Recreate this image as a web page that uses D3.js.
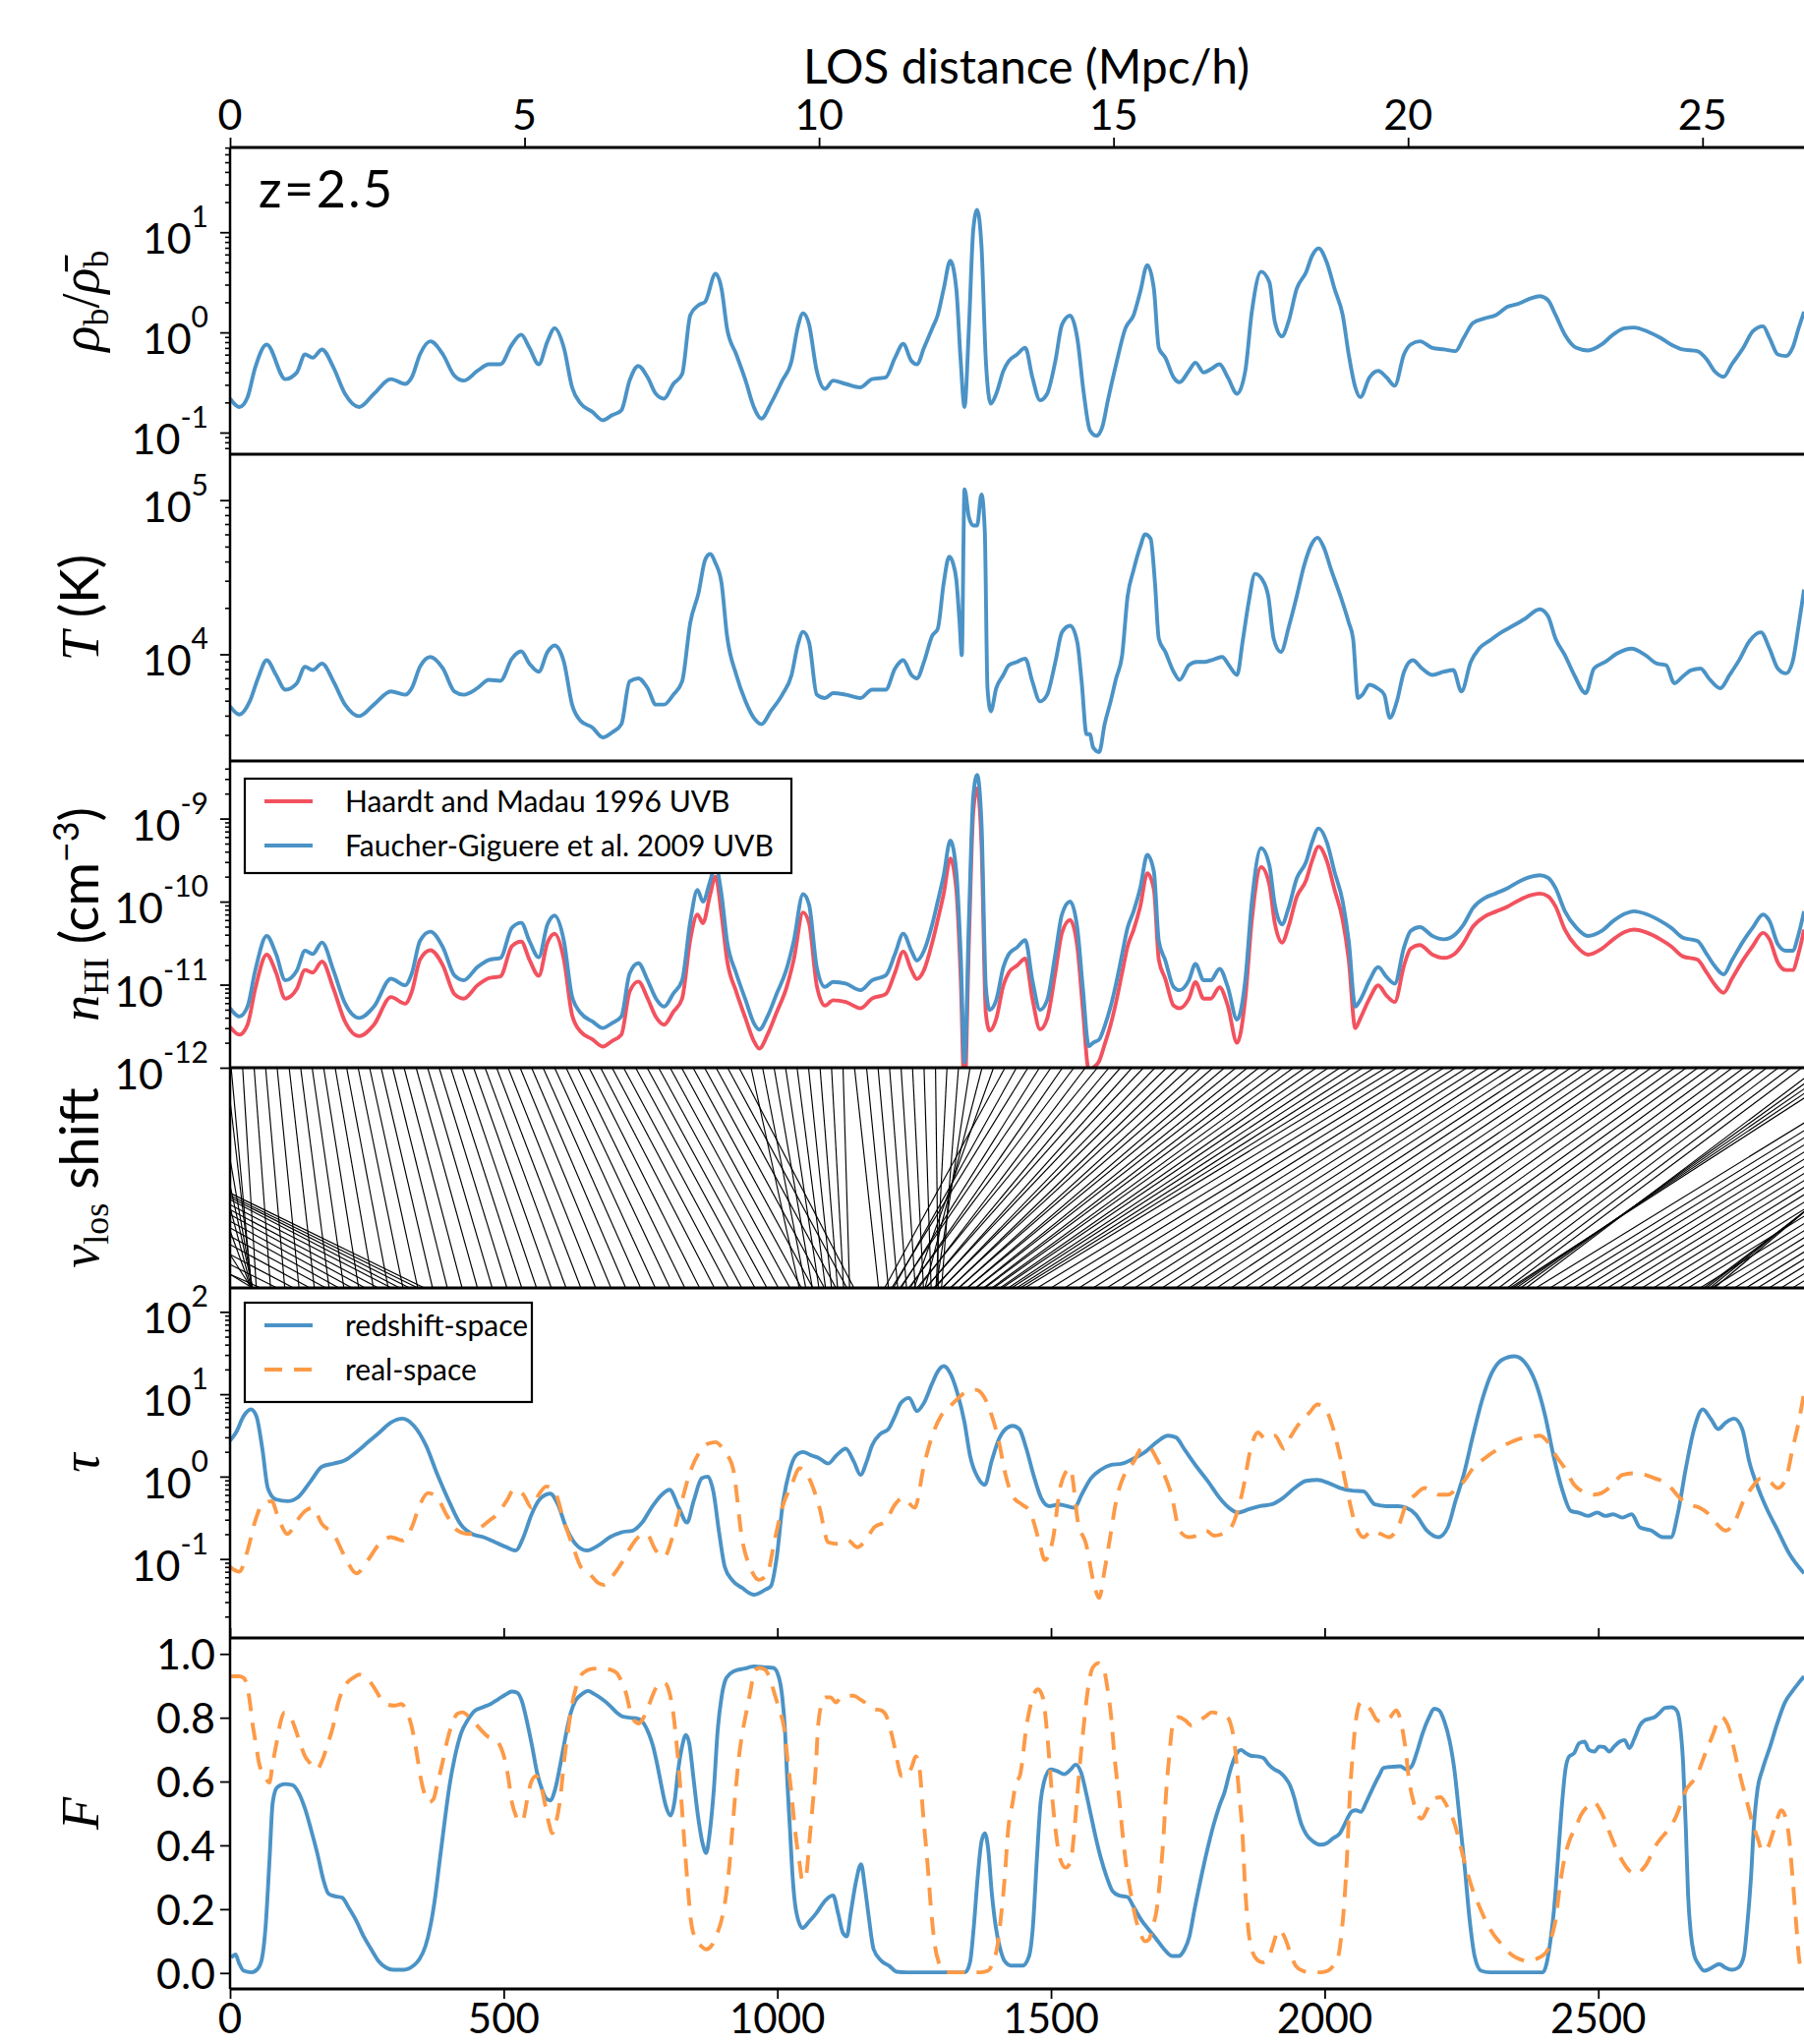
<!DOCTYPE html>
<html>
<head>
<meta charset="utf-8">
<script src="https://cdn.jsdelivr.net/npm/d3@7"></script>
<style>
  body { margin: 0; background: #fff; }
  svg { display: block; font-family: Lato, "Open Sans", sans-serif; }
</style>
</head>
<body>
<div id="chart"></div>
<script>
// ---- data (x in km/s) ----
const rhoData = [[0,0.218],[17,0.18],[32,0.226],[46,0.446],[67,0.756],[101,0.342],[122,0.398],[137,0.603],[151,0.559],[168,0.676],[189,0.446],[210,0.244],[236,0.18],[263,0.244],[294,0.342],[320,0.306],[332,0.356],[347,0.603],[366,0.815],[389,0.603],[410,0.369],[427,0.33],[452,0.413],[473,0.481],[494,0.481],[515,0.756],[532,0.949],[547,0.701],[564,0.481],[580,0.815],[593,1.1],[610,0.701],[625,0.283],[641,0.194],[662,0.161],[681,0.133],[698,0.149],[715,0.167],[730,0.33],[746,0.463],[763,0.356],[778,0.244],[793,0.218],[810,0.306],[826,0.383],[841,1.49],[856,1.87],[868,2.02],[887,3.84],[898,2.73],[908,1.1],[925,0.603],[942,0.33],[957,0.18],[971,0.138],[988,0.194],[1009,0.33],[1026,0.519],[1037,1.1],[1047,1.55],[1058,1.19],[1072,0.413],[1087,0.273],[1102,0.33],[1125,0.306],[1152,0.283],[1173,0.342],[1198,0.356],[1215,0.559],[1230,0.768],[1245,0.519],[1255,0.481],[1268,0.701],[1283,1.1],[1293,1.49],[1304,2.73],[1316,5.19],[1327,2.73],[1335,0.519],[1342,0.18],[1350,1.1],[1358,10.6],[1365,16.7],[1373,7.28],[1381,0.519],[1390,0.194],[1400,0.244],[1413,0.413],[1423,0.519],[1438,0.603],[1453,0.701],[1466,0.356],[1480,0.21],[1493,0.244],[1508,0.519],[1520,1.19],[1535,1.47],[1548,0.879],[1560,0.244],[1571,0.106],[1583,0.093],[1594,0.115],[1604,0.21],[1619,0.481],[1636,1.1],[1651,1.49],[1663,2.53],[1676,4.7],[1688,2.73],[1697,0.701],[1709,0.559],[1724,0.356],[1735,0.318],[1752,0.413],[1764,0.499],[1779,0.398],[1792,0.429],[1808,0.481],[1823,0.356],[1840,0.244],[1855,0.413],[1867,1.61],[1884,4.04],[1899,3.17],[1909,1.28],[1922,0.914],[1934,1.28],[1949,2.73],[1966,3.98],[1977,5.81],[1989,6.91],[2004,4.99],[2018,2.73],[2033,1.49],[2044,0.603],[2056,0.283],[2065,0.226],[2082,0.356],[2098,0.413],[2113,0.356],[2128,0.294],[2145,0.603],[2157,0.756],[2174,0.815],[2197,0.701],[2218,0.676],[2239,0.65],[2254,0.879],[2271,1.24],[2292,1.38],[2313,1.49],[2334,1.8],[2355,1.94],[2376,2.18],[2393,2.3],[2408,2.1],[2422,1.49],[2439,0.949],[2460,0.701],[2481,0.66],[2506,0.756],[2527,0.949],[2548,1.1],[2565,1.12],[2590,1.02],[2614,0.879],[2633,0.756],[2654,0.676],[2681,0.65],[2698,0.538],[2712,0.413],[2729,0.361],[2744,0.481],[2765,0.701],[2782,1.02],[2801,1.15],[2813,0.879],[2828,0.603],[2843,0.581],[2855,0.701],[2866,1.1],[2876,1.61]];

const tempData = [[0,4600],[17,4070],[36,4950],[51,6980],[67,9160],[84,7350],[101,5890],[122,6490],[137,8300],[151,7900],[168,8710],[189,6660],[210,4720],[236,3970],[263,4720],[294,5740],[320,5470],[332,6030],[347,8300],[366,9610],[389,8090],[410,5740],[427,5470],[452,6030],[473,6820],[494,6730],[515,9380],[532,10450],[547,8710],[564,7710],[580,10350],[593,11420],[610,8930],[625,4720],[641,3690],[662,3350],[681,2890],[698,3110],[715,3520],[730,6660],[746,6980],[763,6030],[778,4720],[793,4720],[810,5470],[826,6660],[841,16100],[856,25000],[868,40900],[877,44700],[887,39000],[898,29000],[908,13200],[925,7350],[942,4950],[957,3870],[971,3520],[988,4270],[1009,5470],[1026,7350],[1037,11420],[1047,14000],[1058,12000],[1072,5470],[1087,5200],[1102,5600],[1125,5470],[1152,5200],[1173,5890],[1198,5890],[1215,8090],[1230,9160],[1245,7350],[1255,6980],[1268,8930],[1283,13200],[1293,14600],[1304,29000],[1314,43000],[1321,39000],[1327,30500],[1333,16100],[1337,9870],[1342,117500],[1350,77500],[1358,68500],[1365,68500],[1373,109000],[1379,63700],[1384,6030],[1390,4270],[1400,6030],[1413,7350],[1423,8500],[1438,8930],[1453,9380],[1466,6660],[1480,4950],[1493,5470],[1508,8930],[1520,13900],[1535,15300],[1548,12000],[1556,6660],[1565,3030],[1571,3030],[1577,2490],[1588,2320],[1598,3520],[1609,4950],[1619,6980],[1630,9870],[1640,23800],[1651,35300],[1663,49800],[1672,60000],[1682,56300],[1690,29000],[1697,12600],[1709,10350],[1724,7710],[1735,6820],[1752,8500],[1766,8930],[1781,8930],[1798,9290],[1813,9610],[1825,8500],[1840,7350],[1850,12000],[1861,21600],[1873,33300],[1886,30500],[1897,23800],[1907,12600],[1920,10350],[1935,15300],[1949,23800],[1962,37100],[1977,52400],[1987,57100],[1998,49800],[2012,35300],[2029,23800],[2044,16100],[2052,12600],[2061,5200],[2069,5470],[2082,6340],[2096,6030],[2109,5470],[2119,3870],[2132,4950],[2145,7710],[2161,9160],[2178,8090],[2197,7350],[2218,7710],[2235,7900],[2250,5740],[2267,8930],[2282,10870],[2302,12300],[2323,13900],[2344,15300],[2365,16900],[2393,19600],[2408,17700],[2422,12600],[2439,9870],[2456,7350],[2477,5600],[2492,8090],[2513,8930],[2534,10100],[2561,10870],[2586,9870],[2607,8710],[2624,8500],[2639,6490],[2654,7160],[2670,7900],[2687,8090],[2702,6980],[2723,6030],[2740,7350],[2759,9380],[2775,12000],[2797,13900],[2813,10870],[2828,8090],[2843,7520],[2855,8930],[2866,15300],[2876,26300]];

const nhiFG = [[0,5.2e-12],[17,4.14e-12],[32,5.45e-12],[46,1.48e-11],[67,3.86e-11],[84,2.34e-11],[101,1.13e-11],[122,1.48e-11],[137,2.56e-11],[151,2.34e-11],[168,3.22e-11],[189,1.48e-11],[210,5.97e-12],[236,3.97e-12],[263,5.45e-12],[294,1.18e-11],[320,9.84e-12],[332,1.36e-11],[347,3.36e-11],[366,4.35e-11],[389,2.81e-11],[410,1.29e-11],[427,1.13e-11],[452,1.63e-11],[473,1.99e-11],[494,2.1e-11],[515,4.85e-11],[532,5.56e-11],[547,3.36e-11],[564,2.14e-11],[580,5.31e-11],[593,6.79e-11],[610,3.36e-11],[625,7.16e-12],[641,4.54e-12],[662,3.61e-12],[681,3.01e-12],[698,3.45e-12],[715,4.14e-12],[730,1.36e-11],[746,1.81e-11],[763,1.13e-11],[778,6.84e-12],[793,5.45e-12],[810,7.83e-12],[826,1.13e-11],[841,5.82e-11],[854,1.38e-10],[864,1.0e-10],[877,1.74e-10],[887,2.74e-10],[898,1.21e-10],[908,3.36e-11],[925,1.36e-11],[942,6.53e-12],[957,3.45e-12],[967,2.88e-12],[982,4.14e-12],[999,7.83e-12],[1016,1.48e-11],[1030,3.36e-11],[1047,1.23e-10],[1058,9.18e-11],[1072,1.63e-11],[1087,9.4e-12],[1102,1.08e-11],[1125,1.03e-11],[1152,8.59e-12],[1173,1.13e-11],[1198,1.29e-11],[1215,2.34e-11],[1230,4.12e-11],[1245,2.56e-11],[1255,1.95e-11],[1268,2.56e-11],[1283,5.31e-11],[1293,1.0e-10],[1304,2.08e-10],[1316,5.42e-10],[1327,2.29e-10],[1335,2.34e-11],[1342,1.16e-12],[1350,5.82e-11],[1358,1.86e-9],[1365,3.36e-9],[1373,8.96e-10],[1381,9.4e-12],[1388,4.97e-12],[1400,6.53e-12],[1413,1.63e-11],[1423,2.34e-11],[1438,2.81e-11],[1453,3.43e-11],[1466,1.13e-11],[1480,4.97e-12],[1493,6.53e-12],[1508,2.34e-11],[1520,6.98e-11],[1535,1.0e-10],[1548,4.85e-11],[1558,9.4e-12],[1569,1.82e-12],[1577,2.0e-12],[1588,2.19e-12],[1598,3.16e-12],[1609,5.45e-12],[1619,1.03e-11],[1630,2.34e-11],[1640,4.85e-11],[1651,7.66e-11],[1663,1.45e-10],[1676,3.66e-10],[1688,2.29e-10],[1697,3.36e-11],[1709,1.95e-11],[1724,9.4e-12],[1735,8.59e-12],[1752,1.13e-11],[1764,1.78e-11],[1779,1.13e-11],[1792,1.13e-11],[1808,1.55e-11],[1823,9.4e-12],[1840,3.79e-12],[1855,1.13e-11],[1867,1.0e-10],[1884,4.4e-10],[1899,2.74e-10],[1909,9.18e-11],[1922,5.31e-11],[1934,8.37e-11],[1949,1.9e-10],[1966,3.0e-10],[1977,5.19e-10],[1989,7.6e-10],[2004,5.19e-10],[2018,2.29e-10],[2033,1.0e-10],[2044,3.36e-11],[2056,5.45e-12],[2065,6.53e-12],[2082,1.13e-11],[2098,1.63e-11],[2113,1.24e-11],[2128,1.03e-11],[2145,2.81e-11],[2157,4.43e-11],[2174,4.94e-11],[2197,3.86e-11],[2218,3.52e-11],[2239,4.05e-11],[2254,5.31e-11],[2271,8.37e-11],[2292,1.1e-10],[2313,1.26e-10],[2334,1.45e-10],[2355,1.74e-10],[2376,1.99e-10],[2393,2.08e-10],[2408,1.94e-10],[2422,1.45e-10],[2439,7.66e-11],[2460,4.85e-11],[2481,3.86e-11],[2506,4.43e-11],[2527,5.82e-11],[2548,7.11e-11],[2565,7.66e-11],[2590,6.98e-11],[2614,5.82e-11],[2633,4.85e-11],[2654,3.69e-11],[2681,3.36e-11],[2698,2.34e-11],[2712,1.7e-11],[2729,1.33e-11],[2744,1.95e-11],[2765,3.36e-11],[2782,4.85e-11],[2801,6.98e-11],[2813,5.82e-11],[2828,3.08e-11],[2843,2.56e-11],[2855,2.56e-11],[2866,4.05e-11],[2876,7.66e-11]];

const nhiHM = [[0,3.1e-12],[17,2.5e-12],[32,3.3e-12],[46,8.9e-12],[67,2.3e-11],[84,1.4e-11],[101,6.8e-12],[122,8.9e-12],[137,1.5e-11],[151,1.4e-11],[168,1.9e-11],[189,8.9e-12],[210,3.6e-12],[236,2.4e-12],[263,3.3e-12],[294,7.1e-12],[320,5.9e-12],[332,8.2e-12],[347,2.0e-11],[366,2.6e-11],[389,1.7e-11],[410,7.7e-12],[427,6.8e-12],[452,9.8e-12],[473,1.2e-11],[494,1.26e-11],[515,2.9e-11],[532,3.3e-11],[547,2.0e-11],[564,1.28e-11],[580,3.2e-11],[593,4.1e-11],[610,2.0e-11],[625,4.3e-12],[641,2.7e-12],[662,2.2e-12],[681,1.8e-12],[698,2.1e-12],[715,2.5e-12],[730,8.2e-12],[746,1.09e-11],[763,6.8e-12],[778,4.1e-12],[793,3.3e-12],[810,4.7e-12],[826,6.8e-12],[841,3.5e-11],[854,7.0e-11],[864,5.5e-11],[877,1.2e-10],[887,2.0e-10],[898,7.0e-11],[908,2.0e-11],[925,8.2e-12],[942,3.9e-12],[957,2.1e-12],[967,1.7e-12],[982,2.5e-12],[999,4.7e-12],[1016,8.9e-12],[1030,2.0e-11],[1047,7.4e-11],[1058,5.5e-11],[1072,9.8e-12],[1087,5.6e-12],[1102,6.5e-12],[1125,6.2e-12],[1152,5.2e-12],[1173,6.8e-12],[1198,7.7e-12],[1215,1.4e-11],[1230,2.5e-11],[1245,1.5e-11],[1255,1.17e-11],[1268,1.5e-11],[1283,3.2e-11],[1293,6.0e-11],[1304,1.25e-10],[1316,3.3e-10],[1327,1.4e-10],[1335,1.2e-11],[1342,5e-13],[1350,3.2e-11],[1358,1.2e-9],[1365,2.3e-9],[1373,5.0e-10],[1381,4.5e-12],[1388,2.8e-12],[1400,3.9e-12],[1413,9.8e-12],[1423,1.4e-11],[1438,1.7e-11],[1453,2.06e-11],[1466,6.8e-12],[1480,2.9e-12],[1493,3.9e-12],[1508,1.4e-11],[1520,4.2e-11],[1535,6.0e-11],[1548,2.9e-11],[1558,5.3e-12],[1569,9.5e-13],[1577,1.0e-12],[1588,1.2e-12],[1598,1.9e-12],[1609,3.3e-12],[1619,6.2e-12],[1630,1.4e-11],[1640,2.9e-11],[1651,4.6e-11],[1663,8.7e-11],[1676,2.2e-10],[1688,1.4e-10],[1697,2.0e-11],[1709,1.17e-11],[1724,5.6e-12],[1735,5.2e-12],[1752,6.8e-12],[1764,1.07e-11],[1779,6.8e-12],[1792,6.8e-12],[1808,9.3e-12],[1823,5.6e-12],[1840,2.0e-12],[1855,6.8e-12],[1867,6.0e-11],[1884,2.6e-10],[1899,1.6e-10],[1909,5.5e-11],[1922,3.2e-11],[1934,5.0e-11],[1949,1.14e-10],[1966,1.8e-10],[1977,3.1e-10],[1989,4.6e-10],[2004,3.1e-10],[2018,1.4e-10],[2033,6.0e-11],[2044,2.0e-11],[2056,3.0e-12],[2065,3.9e-12],[2082,6.8e-12],[2098,9.8e-12],[2113,7.4e-12],[2128,6.2e-12],[2145,1.7e-11],[2157,2.7e-11],[2174,3.0e-11],[2197,2.3e-11],[2218,2.1e-11],[2239,2.4e-11],[2254,3.2e-11],[2271,5.0e-11],[2292,6.6e-11],[2313,7.6e-11],[2334,8.7e-11],[2355,1.04e-10],[2376,1.19e-10],[2393,1.25e-10],[2408,1.16e-10],[2422,8.7e-11],[2439,4.6e-11],[2460,2.9e-11],[2481,2.3e-11],[2506,2.7e-11],[2527,3.5e-11],[2548,4.3e-11],[2565,4.6e-11],[2590,4.2e-11],[2614,3.5e-11],[2633,2.9e-11],[2654,2.2e-11],[2681,2.0e-11],[2698,1.4e-11],[2712,1.02e-11],[2729,8.0e-12],[2744,1.17e-11],[2765,2.0e-11],[2782,2.9e-11],[2801,4.2e-11],[2813,3.5e-11],[2828,1.85e-11],[2843,1.5e-11],[2855,1.5e-11],[2866,2.4e-11],[2876,4.6e-11]];

// v_los shift: [real-space position (top), redshift-space position (bottom)] in km/s
const losPairs = [[-847,56],[-718,86],[-647,116],[-595,146],[-570,175],[-530,199],[-513,223],[-495,247],[-492,271],[-485,295],[-463,310],[-470,328],[-474,343],[-469,355],
[-620,41],[-218,39],[-108,38],[-68,39],[-47,41],[-29,41],[-7,40],[2,39],
[23,48],[44,74],[65,100],[86,126],[108,154],[129,181],[150,208],[171,235],[192,262],[213,289],[234,316],[255,343],[276,370],[297,397],[318,424],[340,452],[361,479],[382,506],[403,533],[424,560],[445,587],[466,614],[487,641],[508,668],[530,696],[551,723],[572,750],[593,777],[614,804],[635,831],[656,858],[677,885],[698,911],[719,935],[741,959],[762,981],[783,1002],[804,1023],[825,1044],[846,1065],[867,1086],[888,1107],[909,1127],[930,1140],
[952,1040],[973,1052],[994,1064],[1015,1076],[1036,1088],[1057,1099],[1078,1110],[1099,1121],[1120,1132],
[1141,1185],[1163,1203],[1184,1220],[1205,1236],[1226,1252],[1247,1267],[1268,1281],[1289,1294],
[1310,1290],[1331,1300],[1352,1290],[1374,1270],[1395,1250],
[1416,1196],[1437,1212],[1458,1209],[1479,1226],[1500,1224],[1521,1242],[1542,1240],[1563,1258],[1585,1255],[1606,1272],[1627,1271],[1648,1288],[1669,1286],[1690,1302],[1711,1301],[1732,1317],[1753,1316],[1774,1332],[1796,1331],[1817,1347],[1838,1347],[1859,1362],[1880,1363],[1901,1377],[1922,1379],[1943,1392],[1964,1395],[1985,1407],[2007,1411],[2028,1422],[2049,1428],[2070,1437],[2091,1444],[2112,1452],
[2133,1475],[2154,1500],[2175,1525],[2196,1551],[2218,1577],[2239,1602],[2260,1628],[2281,1653],[2302,1678],[2323,1703],[2344,1728],[2365,1753],[2386,1778],[2407,1803],[2429,1829],[2450,1854],[2471,1879],[2492,1904],[2513,1929],[2534,1954],[2555,1979],[2576,2004],[2597,2029],[2618,2054],[2640,2080],[2661,2105],[2682,2130],[2703,2155],[2724,2180],[2745,2204],[2766,2228],[2787,2252],[2808,2275],[2829,2297],[2851,2318],[2872,2334],
[2902,2368],[2917,2358],[2932,2350],[2947,2344],[2962,2339],
[3040,2386],[3062,2412],[3083,2433],[3104,2454],[3125,2475],[3146,2496],[3167,2517],[3188,2538],[3209,2559],[3230,2580],[3251,2601],[3273,2623],[3294,2644],[3315,2664],
[3188,2712],[3200,2704],[3212,2698],[3224,2693],
[3336,2686],[3357,2707],[3378,2728],[3399,2749],[3420,2770],[3441,2791],[3462,2812],[3484,2834],[3505,2855],[3526,2876],[3547,2897]];

const tauZ = [[0,2.74],[11,3.44],[25,5.45],[38,6.54],[48,5.45],[59,2.18],[69,0.726],[84,0.527],[105,0.503],[126,0.577],[147,0.871],[168,1.32],[189,1.44],[210,1.58],[231,1.99],[252,2.62],[273,3.44],[294,4.54],[315,5.06],[336,4.14],[358,2.39],[379,1.05],[400,0.503],[421,0.265],[442,0.201],[463,0.184],[484,0.16],[505,0.139],[522,0.127],[536,0.184],[551,0.349],[568,0.551],[585,0.621],[599,0.459],[614,0.242],[631,0.153],[652,0.127],[673,0.146],[694,0.184],[715,0.211],[736,0.221],[753,0.277],[770,0.419],[789,0.604],[803,0.693],[820,0.419],[835,0.277],[847,0.503],[862,0.955],[873,1.0],[883,0.662],[894,0.201],[904,0.08],[917,0.0558],[936,0.0444],[957,0.0369],[978,0.0424],[988,0.0465],[999,0.106],[1009,0.419],[1022,1.15],[1034,1.81],[1047,1.99],[1062,1.81],[1077,1.66],[1093,1.44],[1108,1.81],[1125,2.18],[1140,1.51],[1152,1.05],[1163,1.51],[1173,2.39],[1188,3.29],[1203,3.78],[1215,5.45],[1226,7.86],[1241,9.02],[1255,6.25],[1268,7.86],[1283,13.6],[1293,18.8],[1304,21.9],[1316,17.9],[1329,10.3],[1342,4.54],[1352,1.81],[1367,0.955],[1379,0.795],[1392,1.58],[1405,2.87],[1417,3.78],[1430,4.14],[1442,3.78],[1455,2.18],[1468,1.05],[1482,0.551],[1497,0.438],[1514,0.459],[1529,0.438],[1543,0.419],[1556,0.604],[1573,0.955],[1590,1.2],[1609,1.38],[1630,1.44],[1651,1.66],[1672,1.99],[1693,2.62],[1714,3.14],[1728,3.0],[1745,2.08],[1766,1.32],[1787,0.871],[1808,0.551],[1825,0.419],[1842,0.365],[1861,0.4],[1882,0.438],[1903,0.459],[1924,0.551],[1945,0.726],[1966,0.888],[1987,0.912],[2008,0.832],[2029,0.726],[2050,0.675],[2071,0.662],[2092,0.459],[2113,0.438],[2134,0.438],[2149,0.419],[2166,0.349],[2187,0.221],[2208,0.184],[2225,0.242],[2239,0.503],[2254,1.05],[2271,3.14],[2288,8.61],[2305,17.9],[2323,25.9],[2347,28.9],[2365,24.7],[2386,13.6],[2403,5.45],[2418,1.81],[2435,0.662],[2450,0.382],[2464,0.365],[2481,0.333],[2498,0.365],[2513,0.333],[2527,0.349],[2544,0.318],[2561,0.349],[2576,0.242],[2597,0.221],[2618,0.184],[2633,0.184],[2645,0.349],[2660,1.26],[2675,3.78],[2691,6.54],[2706,4.97],[2719,3.78],[2733,4.54],[2748,5.06],[2763,3.78],[2776,1.51],[2792,0.726],[2807,0.419],[2828,0.221],[2849,0.116],[2876,0.067]];

const tauR = [[0,0.08],[17,0.07],[32,0.127],[46,0.29],[59,0.459],[76,0.503],[88,0.318],[105,0.201],[122,0.29],[137,0.382],[151,0.419],[168,0.265],[189,0.201],[210,0.106],[231,0.067],[252,0.097],[273,0.153],[294,0.184],[315,0.168],[332,0.242],[347,0.459],[362,0.632],[379,0.551],[395,0.349],[416,0.221],[437,0.201],[458,0.242],[473,0.29],[488,0.349],[505,0.503],[519,0.693],[536,0.604],[551,0.419],[564,0.604],[578,0.76],[593,0.662],[610,0.29],[627,0.139],[641,0.08],[656,0.067],[673,0.051],[683,0.0486],[698,0.061],[715,0.088],[732,0.139],[746,0.184],[761,0.201],[778,0.127],[793,0.106],[810,0.201],[824,0.459],[841,1.15],[858,1.99],[873,2.5],[887,2.62],[904,1.99],[919,1.26],[936,0.168],[950,0.08],[967,0.0558],[982,0.067],[995,0.168],[1009,0.419],[1026,0.795],[1041,1.26],[1058,0.955],[1077,0.419],[1093,0.16],[1110,0.153],[1129,0.168],[1146,0.139],[1161,0.168],[1177,0.242],[1198,0.29],[1215,0.459],[1230,0.551],[1251,0.419],[1268,1.38],[1283,3.14],[1299,5.45],[1316,7.17],[1331,9.02],[1346,10.8],[1363,11.3],[1377,9.44],[1392,5.45],[1405,2.62],[1417,1.05],[1430,0.577],[1447,0.459],[1461,0.382],[1478,0.168],[1489,0.0968],[1503,0.168],[1518,0.795],[1535,1.26],[1550,0.265],[1564,0.153],[1577,0.0558],[1588,0.0337],[1598,0.0734],[1609,0.201],[1619,0.503],[1634,1.05],[1651,1.51],[1665,2.18],[1678,2.28],[1693,1.66],[1707,1.05],[1720,0.604],[1735,0.221],[1752,0.184],[1766,0.192],[1783,0.221],[1798,0.192],[1813,0.201],[1829,0.242],[1850,0.662],[1865,2.18],[1878,3.44],[1892,2.87],[1909,3.14],[1926,2.18],[1939,3.14],[1955,4.54],[1972,5.97],[1987,7.5],[2002,6.54],[2014,4.14],[2029,1.66],[2044,0.551],[2056,0.265],[2071,0.184],[2086,0.221],[2103,0.201],[2117,0.184],[2134,0.242],[2149,0.459],[2166,0.604],[2183,0.726],[2197,0.662],[2208,0.604],[2225,0.604],[2242,0.726],[2254,0.871],[2271,1.26],[2292,1.66],[2313,2.08],[2334,2.5],[2355,2.87],[2376,3.0],[2393,3.14],[2408,2.62],[2422,1.81],[2439,1.26],[2456,0.795],[2471,0.662],[2492,0.604],[2506,0.632],[2523,0.76],[2544,1.05],[2565,1.1],[2586,1.05],[2603,0.955],[2618,0.871],[2633,0.726],[2649,0.551],[2666,0.459],[2685,0.419],[2702,0.349],[2717,0.265],[2733,0.221],[2750,0.29],[2765,0.503],[2780,0.726],[2797,0.955],[2813,0.871],[2828,0.726],[2843,0.955],[2855,2.18],[2866,4.54],[2876,10.3]];

const fluxZ = [[2,0.048],[10,0.058],[16,0.033],[25,0.007],[39,0.002],[50,0.012],[58,0.043],[65,0.146],[72,0.351],[78,0.535],[86,0.582],[100,0.592],[114,0.589],[125,0.566],[137,0.515],[149,0.443],[160,0.371],[171,0.289],[180,0.248],[193,0.24],[205,0.236],[216,0.207],[230,0.166],[244,0.115],[258,0.074],[271,0.038],[285,0.017],[299,0.01],[318,0.01],[335,0.023],[346,0.043],[357,0.084],[366,0.146],[374,0.228],[383,0.351],[392,0.474],[401,0.587],[411,0.679],[422,0.751],[434,0.792],[448,0.823],[462,0.833],[476,0.843],[490,0.858],[503,0.872],[515,0.882],[524,0.879],[533,0.853],[542,0.792],[552,0.71],[561,0.628],[570,0.576],[578,0.546],[585,0.541],[594,0.576],[604,0.658],[613,0.741],[622,0.812],[631,0.853],[643,0.874],[654,0.884],[666,0.874],[680,0.858],[694,0.838],[706,0.817],[717,0.804],[731,0.8],[745,0.797],[756,0.782],[765,0.751],[773,0.71],[780,0.658],[787,0.597],[796,0.525],[805,0.494],[812,0.535],[819,0.638],[826,0.71],[833,0.746],[839,0.72],[847,0.607],[854,0.505],[864,0.402],[870,0.376],[876,0.433],[884,0.576],[891,0.761],[898,0.864],[907,0.925],[921,0.946],[940,0.954],[958,0.961],[977,0.958],[993,0.956],[1003,0.925],[1009,0.864],[1014,0.761],[1018,0.607],[1023,0.453],[1028,0.299],[1034,0.197],[1046,0.141],[1058,0.161],[1071,0.187],[1088,0.228],[1102,0.243],[1111,0.187],[1120,0.125],[1127,0.115],[1134,0.187],[1144,0.289],[1153,0.341],[1160,0.269],[1167,0.176],[1176,0.074],[1190,0.038],[1204,0.023],[1218,0.004],[1237,0.002],[1292,0.002],[1343,0.002],[1352,0.033],[1359,0.146],[1366,0.299],[1373,0.412],[1379,0.438],[1385,0.392],[1392,0.248],[1399,0.146],[1406,0.084],[1415,0.038],[1427,0.023],[1441,0.023],[1448,0.023],[1460,0.053],[1467,0.146],[1474,0.351],[1481,0.535],[1487,0.597],[1499,0.638],[1511,0.633],[1524,0.623],[1536,0.638],[1545,0.653],[1555,0.628],[1564,0.566],[1573,0.494],[1582,0.423],[1591,0.361],[1601,0.305],[1612,0.258],[1624,0.243],[1640,0.238],[1651,0.207],[1665,0.166],[1679,0.135],[1693,0.105],[1707,0.074],[1721,0.053],[1733,0.053],[1744,0.074],[1753,0.115],[1762,0.197],[1773,0.289],[1785,0.382],[1797,0.464],[1808,0.525],[1817,0.566],[1828,0.638],[1838,0.684],[1847,0.699],[1856,0.689],[1865,0.681],[1877,0.679],[1888,0.674],[1898,0.653],[1908,0.638],[1919,0.628],[1928,0.612],[1937,0.587],[1945,0.546],[1951,0.505],[1958,0.464],[1967,0.433],[1979,0.412],[1993,0.402],[2004,0.407],[2016,0.423],[2028,0.438],[2036,0.464],[2043,0.489],[2050,0.507],[2057,0.51],[2066,0.505],[2076,0.535],[2087,0.576],[2099,0.617],[2108,0.643],[2122,0.646],[2138,0.648],[2149,0.638],[2159,0.648],[2168,0.689],[2179,0.751],[2191,0.802],[2200,0.828],[2209,0.823],[2219,0.787],[2228,0.73],[2237,0.638],[2246,0.494],[2256,0.33],[2265,0.166],[2274,0.053],[2286,0.007],[2302,0.002],[2352,0.002],[2399,0.002],[2406,0.033],[2412,0.094],[2419,0.197],[2426,0.351],[2433,0.515],[2440,0.638],[2447,0.679],[2456,0.689],[2465,0.72],[2475,0.725],[2483,0.699],[2493,0.694],[2502,0.71],[2511,0.708],[2520,0.694],[2529,0.71],[2539,0.725],[2548,0.73],[2557,0.705],[2566,0.735],[2576,0.776],[2585,0.792],[2594,0.797],[2603,0.802],[2613,0.817],[2622,0.831],[2634,0.833],[2643,0.823],[2649,0.782],[2655,0.658],[2660,0.453],[2664,0.248],[2669,0.125],[2675,0.058],[2683,0.028],[2694,0.007],[2708,0.017],[2721,0.028],[2732,0.017],[2744,0.01],[2756,0.017],[2766,0.053],[2772,0.146],[2779,0.299],[2784,0.453],[2791,0.576],[2800,0.638],[2814,0.71],[2827,0.782],[2841,0.848],[2855,0.884],[2869,0.915],[2876,0.93]];

const fluxR = [[2,0.93],[16,0.93],[25,0.925],[35,0.864],[41,0.782],[47,0.72],[53,0.658],[63,0.617],[72,0.597],[78,0.658],[86,0.73],[93,0.792],[100,0.817],[109,0.807],[118,0.771],[128,0.72],[137,0.679],[146,0.658],[158,0.638],[169,0.669],[179,0.72],[188,0.771],[197,0.843],[205,0.884],[214,0.91],[225,0.925],[236,0.935],[248,0.925],[257,0.91],[267,0.884],[276,0.858],[288,0.841],[301,0.838],[313,0.843],[322,0.823],[332,0.771],[338,0.72],[344,0.658],[350,0.597],[358,0.551],[364,0.535],[372,0.546],[378,0.587],[388,0.658],[397,0.73],[406,0.782],[415,0.812],[425,0.817],[437,0.802],[448,0.782],[459,0.761],[471,0.741],[483,0.735],[494,0.71],[502,0.669],[508,0.617],[515,0.535],[522,0.494],[529,0.474],[536,0.484],[542,0.535],[550,0.597],[559,0.617],[568,0.587],[576,0.525],[582,0.474],[589,0.438],[596,0.474],[604,0.556],[610,0.658],[617,0.751],[624,0.833],[632,0.894],[640,0.93],[652,0.948],[666,0.954],[680,0.954],[694,0.951],[706,0.941],[715,0.915],[724,0.874],[731,0.823],[738,0.792],[747,0.782],[756,0.802],[765,0.838],[773,0.874],[780,0.899],[789,0.91],[797,0.905],[802,0.884],[810,0.812],[817,0.699],[824,0.556],[830,0.412],[836,0.279],[842,0.166],[851,0.105],[861,0.084],[870,0.074],[879,0.084],[888,0.115],[898,0.166],[905,0.228],[912,0.33],[918,0.453],[924,0.576],[930,0.679],[937,0.761],[944,0.823],[951,0.884],[958,0.946],[967,0.956],[977,0.951],[986,0.925],[995,0.874],[1004,0.823],[1012,0.771],[1018,0.679],[1025,0.576],[1032,0.453],[1040,0.351],[1046,0.289],[1053,0.31],[1058,0.402],[1065,0.535],[1070,0.638],[1074,0.761],[1081,0.843],[1088,0.864],[1097,0.864],[1107,0.848],[1116,0.864],[1127,0.869],[1139,0.869],[1151,0.858],[1164,0.843],[1176,0.828],[1190,0.823],[1200,0.802],[1207,0.761],[1214,0.71],[1220,0.658],[1227,0.617],[1237,0.617],[1246,0.648],[1253,0.679],[1260,0.638],[1266,0.505],[1274,0.351],[1281,0.197],[1288,0.084],[1295,0.033],[1303,0.012],[1315,0.002],[1334,0.002],[1352,0.002],[1371,0.002],[1385,0.007],[1394,0.033],[1402,0.084],[1408,0.166],[1415,0.289],[1422,0.453],[1430,0.535],[1436,0.597],[1443,0.617],[1456,0.782],[1476,0.889],[1485,0.864],[1495,0.71],[1502,0.556],[1508,0.453],[1518,0.351],[1527,0.33],[1536,0.351],[1543,0.453],[1548,0.556],[1553,0.658],[1559,0.761],[1567,0.884],[1576,0.956],[1587,0.971],[1596,0.956],[1603,0.894],[1610,0.802],[1616,0.679],[1624,0.556],[1631,0.433],[1638,0.33],[1646,0.248],[1654,0.176],[1663,0.125],[1672,0.099],[1679,0.105],[1686,0.146],[1693,0.197],[1699,0.289],[1705,0.412],[1710,0.556],[1716,0.679],[1723,0.782],[1734,0.802],[1745,0.792],[1757,0.776],[1767,0.787],[1781,0.802],[1794,0.817],[1808,0.812],[1819,0.807],[1828,0.782],[1836,0.71],[1843,0.576],[1850,0.433],[1854,0.289],[1859,0.166],[1865,0.084],[1877,0.041],[1887,0.033],[1896,0.041],[1905,0.084],[1916,0.135],[1923,0.125],[1930,0.099],[1937,0.064],[1947,0.023],[1960,0.007],[1974,0.002],[1993,0.002],[2006,0.007],[2016,0.023],[2025,0.053],[2031,0.125],[2037,0.248],[2042,0.402],[2046,0.556],[2051,0.679],[2057,0.79],[2066,0.848],[2076,0.843],[2085,0.823],[2096,0.792],[2108,0.787],[2120,0.802],[2131,0.823],[2140,0.782],[2148,0.699],[2154,0.607],[2161,0.546],[2168,0.505],[2177,0.484],[2188,0.515],[2200,0.546],[2212,0.551],[2223,0.525],[2232,0.494],[2240,0.453],[2249,0.392],[2260,0.32],[2271,0.258],[2283,0.207],[2297,0.154],[2311,0.115],[2327,0.084],[2341,0.058],[2357,0.043],[2371,0.038],[2385,0.043],[2397,0.053],[2408,0.074],[2415,0.115],[2422,0.166],[2428,0.248],[2435,0.33],[2443,0.392],[2449,0.423],[2458,0.453],[2468,0.494],[2482,0.525],[2493,0.535],[2502,0.515],[2511,0.484],[2520,0.443],[2532,0.392],[2544,0.351],[2557,0.32],[2569,0.31],[2578,0.32],[2588,0.341],[2597,0.371],[2606,0.402],[2615,0.423],[2625,0.443],[2634,0.464],[2643,0.494],[2652,0.535],[2661,0.576],[2671,0.597],[2680,0.617],[2689,0.658],[2698,0.699],[2708,0.741],[2717,0.782],[2726,0.802],[2732,0.792],[2740,0.761],[2747,0.71],[2755,0.648],[2763,0.592],[2772,0.535],[2781,0.474],[2791,0.423],[2800,0.382],[2809,0.392],[2818,0.433],[2827,0.484],[2834,0.51],[2841,0.494],[2848,0.433],[2855,0.299],[2862,0.146],[2867,0.043],[2873,0.002]];

const kmsTicks = [0, 500, 1000, 1500, 2000, 2500];
const mpcTicks = [0, 5, 10, 15, 20, 25];
const fluxTicks = [0, 0.2, 0.4, 0.6, 0.8, 1.0];
const nhiLegend = ["Haardt and Madau 1996 UVB", "Faucher-Giguere et al. 2009 UVB"];
const tauLegend = ["redshift-space", "real-space"];

// ---- layout ----
const width = 1835, height = 2079;
const left = 234, right = 1854;
const rows = { rho: [150, 462], temp: [462, 774], nhi: [774, 1086], los: [1086, 1310], tau: [1310, 1666], flux: [1666, 2023] };
const blue = "#4b93c6", red = "#f2525f", orange = "#fd9a47";
const lw = 3.9;
const dash = "18,12";
const mathFont = "'Liberation Serif', 'DejaVu Serif', serif";

const svg = d3.select("#chart").append("svg")
  .attr("width", width).attr("height", height);
svg.append("rect").attr("width", width).attr("height", height).attr("fill", "#fff");

const x = d3.scaleLinear().domain([0, 2910]).range([left, right]);
const xMpc = d3.scaleLinear().domain([0, 27.04]).range([left, right]);

const yRho = d3.scaleLog().domain([0.0608, 70.2]).range([rows.rho[1], rows.rho[0]]);
const yTemp = d3.scaleLog().domain([2032, 198600]).range([rows.temp[1], rows.temp[0]]);
const yNhi = d3.scaleLog().domain([1e-12, 4.94e-9]).range([rows.nhi[1], rows.nhi[0]]);
const yLos = d3.scaleLinear().domain([0, 1]).range([rows.los[0], rows.los[1]]);
const yTau = d3.scaleLog().domain([0.011, 195]).range([rows.tau[1], rows.tau[0]]);
const yFlux = d3.scaleLinear().domain([-0.05, 1.05]).range([rows.flux[1], rows.flux[0]]);

const defs = svg.append("defs");
Object.entries(rows).forEach(([k, r]) => {
  defs.append("clipPath").attr("id", "clip-" + k)
    .append("rect").attr("x", left).attr("y", r[0]).attr("width", right - left).attr("height", r[1] - r[0]);
});

function curve(key, data, y, color, dashed) {
  const line = d3.line().x(d => x(d[0])).y(d => y(d[1])).curve(d3.curveMonotoneX);
  svg.append("path").datum(data)
    .attr("clip-path", `url(#clip-${key})`)
    .attr("d", line)
    .attr("fill", "none")
    .attr("stroke", color)
    .attr("stroke-width", lw)
    .attr("stroke-linejoin", "round")
    .attr("stroke-dasharray", dashed ? dash : null);
}

curve("rho", rhoData, yRho, blue);
curve("temp", tempData, yTemp, blue);
curve("nhi", nhiHM, yNhi, red);
curve("nhi", nhiFG, yNhi, blue);

// shift lines
svg.append("g").attr("clip-path", "url(#clip-los)")
  .selectAll("line").data(losPairs).join("line")
  .attr("x1", d => x(d[0])).attr("y1", yLos(0))
  .attr("x2", d => x(d[1])).attr("y2", yLos(1))
  .attr("stroke", "#000").attr("stroke-width", 1.15);

curve("tau", tauZ, yTau, blue);
curve("tau", tauR, yTau, orange, true);
curve("flux", fluxZ, yFlux, blue);
curve("flux", fluxR, yFlux, orange, true);

// ---- spines ----
[150, 462, 774, 1086, 1310, 1666, 2023].forEach(yy => {
  svg.append("line").attr("x1", left).attr("x2", right + 2).attr("y1", yy).attr("y2", yy)
    .attr("stroke", "#000").attr("stroke-width", 3);
});
svg.append("line").attr("x1", left).attr("x2", left).attr("y1", 150).attr("y2", 2023)
  .attr("stroke", "#000").attr("stroke-width", 2.5);

// ---- ticks ----
function styleTicks(g, w) {
  g.select(".domain").remove();
  g.selectAll(".tick line").attr("stroke", "#000").attr("stroke-width", w);
  g.selectAll(".tick text").remove();
}

function logAxis(y, exps) {
  const [d0, d1] = y.domain();
  const minors = [];
  for (let e = Math.floor(Math.log10(d0)); e <= Math.ceil(Math.log10(d1)); e++) {
    for (let m = 2; m <= 9; m++) {
      const v = m * Math.pow(10, e);
      if (v > d0 && v < d1) minors.push(v);
    }
  }
  svg.append("g").attr("transform", `translate(${left},0)`)
    .call(d3.axisLeft(y).tickValues(minors).tickSize(5).tickFormat(""))
    .call(g => styleTicks(g, 1.6));
  svg.append("g").attr("transform", `translate(${left},0)`)
    .call(d3.axisLeft(y).tickValues(exps.map(e => Math.pow(10, e))).tickSize(10).tickFormat(""))
    .call(g => styleTicks(g, 1.8));
  exps.forEach(e => {
    const yy = y(Math.pow(10, e));
    const t = svg.append("text").attr("x", 212).attr("y", yy + 22)
      .attr("text-anchor", "end").attr("font-size", 43);
    t.append("tspan").text("10");
    t.append("tspan").attr("font-size", 30).attr("dy", -27).text(String(e));
  });
}

logAxis(yRho, [-1, 0, 1]);
logAxis(yTemp, [4, 5]);
logAxis(yNhi, [-12, -11, -10, -9]);
logAxis(yTau, [-1, 0, 1, 2]);

// flux axis
svg.append("g").attr("transform", `translate(${left},0)`)
  .call(d3.axisLeft(yFlux).tickValues(fluxTicks).tickSize(10).tickFormat(""))
  .call(g => styleTicks(g, 1.8));
svg.append("g").selectAll("text").data(fluxTicks).join("text")
  .attr("x", 219).attr("y", d => yFlux(d) + 16)
  .attr("text-anchor", "end").attr("font-size", 43)
  .text(d => d3.format(".1f")(d));

// bottom km/s axis
svg.append("g").attr("transform", `translate(0,${rows.flux[1]})`)
  .call(d3.axisBottom(x).tickValues(kmsTicks).tickSize(10).tickFormat(""))
  .call(g => styleTicks(g, 1.8));
svg.append("g").attr("transform", `translate(0,${rows.flux[0]})`)
  .call(d3.axisTop(x).tickValues(kmsTicks).tickSize(10).tickFormat(""))
  .call(g => styleTicks(g, 1.8));
svg.append("g").selectAll("text").data(kmsTicks).join("text")
  .attr("x", d => x(d)).attr("y", 2068)
  .attr("text-anchor", "middle").attr("font-size", 42)
  .text(d => d);

// top Mpc/h axis
svg.append("g").attr("transform", `translate(0,${rows.rho[0]})`)
  .call(d3.axisTop(xMpc).tickValues(mpcTicks).tickSize(10).tickFormat(""))
  .call(g => styleTicks(g, 1.8));
svg.append("g").selectAll("text").data(mpcTicks).join("text")
  .attr("x", d => xMpc(d)).attr("y", 132)
  .attr("text-anchor", "middle").attr("font-size", 43)
  .text(d => d);

svg.append("text").attr("x", (left + right) / 2).attr("y", 85)
  .attr("text-anchor", "middle").attr("font-size", 48)
  .text("LOS distance (Mpc/h)");

svg.append("text").attr("x", 263).attr("y", 211).attr("font-size", 52)
  .attr("letter-spacing", 2.5).text("z=2.5");

// ---- y labels ----
function yLabel(row, parts) {
  const cy = (rows[row][0] + rows[row][1]) / 2;
  const t = svg.append("text").attr("transform", `translate(100,${cy}) rotate(-90)`)
    .attr("text-anchor", "middle").attr("font-size", 54);
  parts.forEach(p => {
    const s = t.append("tspan").text(p.t);
    if (p.math) s.attr("font-family", mathFont).attr("font-style", p.up ? "normal" : "italic");
    if (p.size) s.attr("font-size", p.size);
    if (p.dy) s.attr("dy", p.dy);
  });
}

yLabel("rho", [
  { t: "\u03c1", math: true }, { t: "b", math: true, up: true, size: 36, dy: 10 },
  { t: "/", math: true, up: true, dy: -10 },
  { t: "\u03c1\u0304", math: true }, { t: "b", math: true, up: true, size: 36, dy: 10 }
]);
yLabel("temp", [{ t: "T", math: true }, { t: " (K)" }]);
yLabel("nhi", [
  { t: "n", math: true }, { t: "HI", math: true, up: true, size: 36, dy: 10 },
  { t: " (cm", dy: -10 }, { t: "\u22123", size: 36, dy: -20 }, { t: ")", dy: 20 }
]);
yLabel("los", [{ t: "v", math: true }, { t: "los", math: true, up: true, size: 36, dy: 10 }, { t: " shift", dy: -10 }]);
yLabel("tau", [{ t: "\u03c4", math: true }]);
yLabel("flux", [{ t: "F", math: true }]);

// ---- legends ----
function legend(x0, y0, w, h, items) {
  const g = svg.append("g");
  g.append("rect").attr("x", x0).attr("y", y0).attr("width", w).attr("height", h)
    .attr("fill", "#fff").attr("stroke", "#000").attr("stroke-width", 2.2);
  items.forEach((it, i) => {
    const yy = y0 + 23 + i * 45;
    g.append("line").attr("x1", x0 + 20).attr("x2", x0 + 69).attr("y1", yy).attr("y2", yy)
      .attr("stroke", it.color).attr("stroke-width", lw)
      .attr("stroke-dasharray", it.dashed ? dash : null);
    g.append("text").attr("x", x0 + 102).attr("y", yy + 11).attr("font-size", 30).text(it.label);
  });
}
legend(249, 792, 556, 96, [
  { label: nhiLegend[0], color: red },
  { label: nhiLegend[1], color: blue }
]);
legend(249, 1325, 292, 101, [
  { label: tauLegend[0], color: blue },
  { label: tauLegend[1], color: orange, dashed: true }
]);
</script>
</body>
</html>
